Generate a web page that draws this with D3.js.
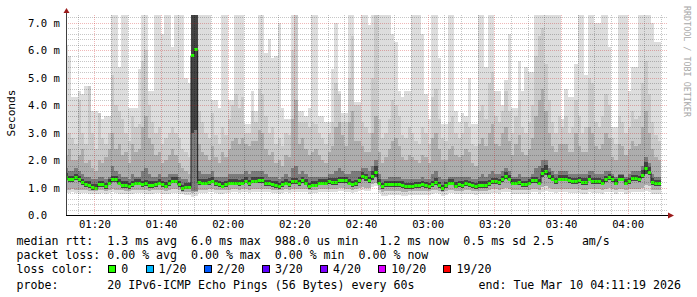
<!DOCTYPE html>
<html><head><meta charset="utf-8">
<script src="https://cdn.jsdelivr.net/npm/d3@7"></script>
<style>
body{margin:0;background:#fff}
svg{display:block}
text{font-family:"DejaVu Sans Mono",monospace;fill:#000}
</style>
</head><body>
<svg id="chart" width="697" height="297"></svg>
<script>
// ---------- DATA (one value per 60 s step, starting 01:11) ----------
const firstStep = new Date(2026, 2, 10, 1, 11, 0);
const viewStart = new Date(2026, 2, 10, 1, 11, 30);
const viewEnd   = new Date(2026, 2, 10, 4, 11, 30);

const median = [
1.40,1.30,1.30,1.39,1.31,1.19,1.12,1.10,1.02,1.00,
1.13,1.13,1.05,1.18,1.30,1.30,1.18,1.10,1.10,1.05,
1.13,1.18,1.18,1.13,1.15,1.10,1.10,1.13,1.18,1.12,
1.07,1.15,1.25,1.25,1.13,0.99,1.03,1.03,5.84,6.04,
1.19,1.18,1.18,1.21,1.25,1.15,1.13,1.07,1.13,1.18,
1.18,1.18,1.15,1.18,1.25,1.15,1.25,1.25,1.28,1.28,
1.15,1.15,1.12,1.10,1.05,1.13,1.18,1.13,1.24,1.24,
1.15,1.27,1.18,1.05,1.11,1.11,1.18,1.18,1.18,1.24,
1.21,1.21,1.27,1.27,1.27,1.18,1.12,1.15,1.27,1.42,
1.37,1.27,1.42,1.58,1.18,1.05,1.12,1.12,1.12,1.12,
1.12,1.10,1.05,1.05,1.05,1.08,1.08,1.12,1.08,1.05,
1.12,1.21,1.08,0.99,1.08,1.18,1.18,1.07,1.12,1.10,
1.15,1.13,1.08,1.05,1.10,1.10,1.10,1.15,1.24,1.24,
1.19,1.30,1.42,1.32,1.18,1.18,1.19,1.12,1.12,1.18,
1.27,1.27,1.18,1.52,1.61,1.42,1.32,1.24,1.32,1.32,
1.32,1.27,1.24,1.24,1.27,1.21,1.21,1.32,1.24,1.24,
1.24,1.18,1.30,1.39,1.30,1.18,1.32,1.32,1.18,1.24,
1.33,1.33,1.30,1.45,1.70,1.58,1.21,1.15,1.15];

// outermost smoke (slowest / fastest ping)
const maxPing = [
6.2,5.8,4.3,4.3,4.5,4.4,4.7,4.7,3.8,3.8,
3.7,3.5,3.6,3.6,7.3,7.3,5.4,7.3,7.3,3.9,
3.9,3.9,5.3,7.3,7.3,4.5,4.5,7.3,7.3,6.6,
7.3,7.3,6.1,7.3,7.3,7.3,5.0,4.8,7.3,7.3,
7.3,7.3,7.3,7.3,4.2,4.2,3.9,7.3,7.3,4.2,
4.2,7.3,7.3,7.3,3.3,3.3,4.5,3.8,7.3,7.3,
5.9,6.4,5.7,5.8,7.0,3.9,3.5,3.5,7.3,7.3,
3.8,3.8,3.6,3.9,7.3,7.3,3.6,3.6,3.4,3.4,
5.3,7.0,4.5,3.7,3.7,7.3,7.3,4.1,4.1,7.3,
7.3,6.9,7.3,7.3,7.3,7.3,7.3,7.3,6.6,6.3,
4.5,4.3,4.5,4.5,7.3,7.3,7.3,6.6,4.4,3.5,
7.3,7.3,5.7,3.3,3.3,7.3,7.3,3.8,3.4,3.7,
3.6,5.0,3.3,3.3,7.3,7.3,5.4,7.3,7.3,4.5,
4.5,4.0,4.9,6.6,3.9,3.9,5.6,4.5,5.4,5.2,
5.2,7.3,7.3,7.3,7.3,7.3,7.3,7.3,7.3,3.5,
4.6,4.3,4.3,5.5,7.3,7.3,5.1,7.3,7.3,7.0,
7.0,7.3,7.3,6.1,3.2,3.2,7.3,7.3,7.3,4.5,
5.4,5.4,7.3,7.3,7.3,7.3,7.0,6.3,6.3];
const minPing = [
0.80,0.80,0.82,0.80,0.78,0.80,0.80,0.78,0.76,0.76,
0.78,0.80,0.78,0.80,0.82,0.80,0.78,0.78,0.76,0.76,
0.78,0.80,0.80,0.80,0.78,0.76,0.78,0.80,0.80,0.78,
0.76,0.78,0.80,0.80,0.78,0.76,0.74,0.72,0.66,0.70,
0.80,0.80,0.80,0.82,0.82,0.80,0.78,0.78,0.80,0.80,
0.82,0.82,0.80,0.82,0.84,0.80,0.82,0.84,0.84,0.84,
0.84,0.82,0.80,0.80,0.78,0.80,0.82,0.80,0.84,0.84,
0.82,0.84,0.82,0.78,0.80,0.80,0.82,0.82,0.82,0.84,
0.84,0.84,0.86,0.86,0.84,0.82,0.80,0.82,0.86,0.90,
0.88,0.86,1.02,1.05,0.80,0.70,0.70,0.72,0.72,0.72,
0.72,0.70,0.70,0.72,0.72,0.74,0.74,0.74,0.72,0.72,
0.78,0.80,0.76,0.70,0.74,0.80,0.80,0.76,0.76,0.76,
0.78,0.78,0.76,0.74,0.76,0.76,0.76,0.78,0.80,0.80,
0.78,0.82,0.84,0.82,0.78,0.78,0.78,0.76,0.76,0.78,
0.82,0.82,0.78,0.84,0.86,0.84,0.82,0.80,0.82,0.82,
0.82,0.80,0.80,0.80,0.80,0.78,0.78,0.82,0.80,0.80,
0.80,0.78,0.82,0.84,0.82,0.78,0.82,0.82,0.78,0.80,
0.82,0.82,0.82,0.84,0.86,0.84,0.78,0.76,0.76];
// inner smoke levels
const upper2 = [
3.0,3.0,2.8,2.6,4.2,3.0,2.6,4.7,3.0,2.4,
3.7,2.8,2.6,3.0,5.1,4.0,3.8,3.5,3.0,2.7,
3.6,3.2,3.3,5.6,6.0,4.0,3.4,3.0,3.2,2.6,
2.8,3.0,3.2,3.0,2.8,2.4,2.3,2.1,7.3,7.3,
3.8,3.4,3.0,2.8,3.7,2.9,2.6,3.2,2.9,3.5,
4.0,4.4,3.9,4.3,3.0,3.0,3.8,3.4,4.6,4.4,
3.6,3.0,3.2,2.6,2.8,2.5,3.0,2.9,6.0,7.3,
3.4,3.4,3.4,3.2,3.4,3.3,3.0,2.8,2.6,3.0,
3.4,4.8,4.4,3.4,3.4,5.0,6.5,4.0,4.0,3.4,
3.2,3.0,5.0,7.3,3.5,2.8,3.0,3.5,4.2,4.0,
3.6,2.9,2.8,3.2,3.0,2.7,2.6,3.2,3.0,2.6,
4.3,4.6,3.5,2.8,2.7,3.4,3.6,3.0,2.8,3.0,
3.4,3.2,2.6,2.5,3.8,4.0,3.5,4.8,5.2,3.6,
3.4,3.8,4.5,3.8,3.0,3.6,4.2,3.2,3.0,3.4,
4.0,5.8,6.5,6.8,5.5,4.2,3.4,3.0,3.6,3.2,
3.6,3.0,3.2,4.2,3.6,3.0,3.2,5.0,4.8,3.4,
3.2,3.6,4.4,4.0,2.8,2.6,3.6,3.4,3.0,3.2,
3.8,3.5,3.6,4.8,5.6,4.4,3.4,2.9,2.7];
const upper3 = [
2.2,2.4,2.0,2.0,2.2,2.4,1.9,2.0,1.7,1.6,
2.0,1.9,2.1,2.4,3.0,2.4,2.6,2.2,2.3,1.9,
2.6,2.3,2.4,3.2,3.6,2.8,2.6,2.2,2.3,1.9,
2.0,2.2,2.4,2.2,1.9,1.7,1.6,1.5,7.3,7.3,
2.6,2.3,2.2,2.0,2.5,2.1,1.9,2.3,2.1,2.4,
2.7,2.8,2.6,2.8,2.6,2.5,2.7,2.7,3.1,3.0,
2.4,2.2,2.3,1.9,2.0,1.8,2.2,2.1,3.5,4.2,
2.6,2.8,2.4,2.2,2.3,2.4,2.2,2.0,1.9,2.3,
2.5,3.2,3.4,2.9,2.5,3.4,3.8,2.7,2.7,2.5,
2.3,2.3,3.0,3.6,2.3,1.9,2.1,2.4,2.7,2.8,
2.5,2.1,2.0,2.2,2.1,2.0,1.9,2.2,2.1,1.9,
2.8,3.0,2.4,2.0,2.0,2.4,2.5,2.2,2.1,2.2,
2.4,2.3,1.9,1.8,2.6,2.8,2.5,3.0,3.3,2.6,
2.5,3.0,3.2,2.7,2.2,2.6,2.9,2.3,2.2,2.4,
2.8,3.6,4.2,4.6,3.8,3.0,2.5,2.3,2.6,2.6,
2.6,2.3,2.3,3.0,2.5,2.3,2.3,3.2,3.0,2.5,
2.4,2.6,3.0,2.8,2.1,2.0,2.6,2.5,2.2,2.4,
2.7,2.5,2.6,3.2,3.8,3.0,2.4,2.1,2.0];
const upper4 = [
1.7,1.6,1.6,1.7,1.6,1.5,1.4,1.4,1.3,1.3,
1.4,1.4,1.3,1.4,1.8,1.6,1.5,1.4,1.4,1.3,
1.5,1.4,1.4,1.6,1.7,1.5,1.4,1.4,1.5,1.4,
1.4,1.5,1.5,1.5,1.4,1.3,1.3,1.2,7.3,7.3,
1.6,1.5,1.5,1.5,1.6,1.4,1.4,1.4,1.4,1.5,
1.5,1.5,1.5,1.5,1.6,1.5,1.6,1.6,1.6,1.6,
1.5,1.4,1.4,1.4,1.3,1.4,1.5,1.4,1.7,1.8,
1.5,1.6,1.5,1.4,1.4,1.4,1.4,1.4,1.4,1.5,
1.5,1.6,1.7,1.6,1.5,1.5,1.6,1.6,1.6,1.7,
1.7,1.6,1.8,2.0,1.5,1.3,1.3,1.4,1.4,1.4,
1.4,1.3,1.3,1.3,1.3,1.3,1.3,1.4,1.3,1.3,
1.5,1.6,1.4,1.3,1.3,1.4,1.4,1.4,1.4,1.4,
1.4,1.4,1.3,1.3,1.4,1.5,1.4,1.5,1.6,1.5,
1.5,1.6,1.7,1.6,1.4,1.4,1.5,1.4,1.4,1.4,
1.5,1.7,1.8,2.0,2.0,1.7,1.6,1.5,1.6,1.6,
1.6,1.5,1.5,1.5,1.5,1.5,1.5,1.6,1.6,1.5,
1.5,1.5,1.6,1.6,1.5,1.4,1.5,1.5,1.4,1.5,
1.6,1.6,1.6,1.8,2.1,1.9,1.5,1.4,1.4];
const lower2 = [
0.92,0.92,0.94,0.92,0.90,0.92,0.90,0.88,0.86,0.86,
0.90,0.90,0.88,0.92,0.94,0.92,0.90,0.90,0.88,0.88,
0.90,0.92,0.92,0.90,0.90,0.88,0.90,0.92,0.92,0.90,
0.88,0.90,0.94,0.94,0.90,0.84,0.84,0.84,0.80,0.82,
0.92,0.92,0.92,0.94,0.94,0.92,0.90,0.90,0.92,0.92,
0.94,0.94,0.92,0.94,0.96,0.92,0.94,0.96,0.96,0.96,
0.94,0.94,0.92,0.92,0.90,0.92,0.94,0.92,0.96,0.96,
0.94,0.96,0.94,0.90,0.92,0.92,0.94,0.94,0.94,0.96,
0.96,0.96,0.98,0.98,0.96,0.94,0.92,0.94,0.98,1.02,
1.00,0.98,1.12,1.15,0.92,0.84,0.86,0.86,0.86,0.86,
0.86,0.84,0.84,0.86,0.86,0.88,0.88,0.88,0.86,0.86,
0.90,0.92,0.88,0.84,0.88,0.92,0.92,0.88,0.88,0.88,
0.90,0.90,0.88,0.86,0.88,0.88,0.88,0.90,0.94,0.94,
0.92,0.96,1.00,0.96,0.92,0.92,0.92,0.90,0.90,0.92,
0.96,0.96,0.92,1.02,1.06,1.00,0.96,0.94,0.96,0.96,
0.96,0.94,0.94,0.94,0.94,0.92,0.92,0.96,0.94,0.94,
0.94,0.92,0.96,0.98,0.96,0.92,0.96,0.96,0.92,0.94,
0.96,0.96,0.96,1.00,1.08,1.04,0.92,0.90,0.90];
// bottom of the dark-grey level (just under the median)
const lower4 = [
1.30,1.20,1.20,1.29,1.21,1.09,1.02,1.00,0.92,0.90,
1.03,1.03,0.95,1.08,1.20,1.20,1.08,1.00,1.00,0.95,
1.03,1.08,1.08,1.03,1.05,1.00,1.00,1.03,1.08,1.02,
0.97,1.05,1.15,1.15,1.03,0.89,0.93,0.93,0.86,0.88,
1.09,1.08,1.08,1.11,1.15,1.05,1.03,0.97,1.03,1.08,
1.08,1.08,1.05,1.08,1.15,1.05,1.15,1.15,1.18,1.18,
1.05,1.05,1.02,1.00,0.95,1.03,1.08,1.03,1.14,1.14,
1.05,1.17,1.08,0.95,1.01,1.01,1.08,1.08,1.08,1.14,
1.11,1.11,1.17,1.17,1.17,1.08,1.02,1.05,1.17,1.30,
1.25,1.17,1.28,1.40,1.08,0.95,1.02,1.02,1.02,1.02,
1.02,1.00,0.95,0.95,0.95,0.98,0.98,1.02,0.98,0.95,
1.02,1.11,0.98,0.89,0.98,1.08,1.08,0.97,1.02,1.00,
1.05,1.03,0.98,0.95,1.00,1.00,1.00,1.05,1.14,1.14,
1.09,1.20,1.30,1.22,1.08,1.08,1.09,1.02,1.02,1.08,
1.17,1.17,1.08,1.38,1.45,1.30,1.22,1.14,1.22,1.22,
1.22,1.17,1.14,1.14,1.17,1.11,1.11,1.22,1.14,1.14,
1.14,1.08,1.20,1.29,1.20,1.08,1.22,1.22,1.08,1.14,
1.23,1.23,1.20,1.33,1.50,1.45,1.11,1.05,1.05];
// innermost (darkest) smoke band, hugging the median
const coreLow = [
1.30,1.20,1.20,1.29,1.21,1.09,1.02,1.00,0.92,0.90,
1.03,1.03,0.95,1.08,1.20,1.20,1.08,1.00,1.00,0.95,
1.03,1.08,1.08,1.03,1.05,1.00,1.00,1.03,1.08,1.02,
0.97,1.05,1.15,1.15,1.03,0.89,0.93,0.93,3.00,3.10,
1.09,1.08,1.08,1.11,1.15,1.05,1.03,0.97,1.03,1.08,
1.08,1.08,1.05,1.08,1.15,1.05,1.15,1.15,1.18,1.18,
1.05,1.05,1.02,1.00,0.95,1.03,1.08,1.03,1.14,1.14,
1.05,1.17,1.08,0.95,1.01,1.01,1.08,1.08,1.08,1.14,
1.11,1.11,1.17,1.17,1.17,1.08,1.02,1.05,1.17,1.30,
1.25,1.17,1.28,1.40,1.08,0.95,1.02,1.02,1.02,1.02,
1.02,1.00,0.95,0.95,0.95,0.98,0.98,1.02,0.98,0.95,
1.02,1.11,0.98,0.89,0.98,1.08,1.08,0.97,1.02,1.00,
1.05,1.03,0.98,0.95,1.00,1.00,1.00,1.05,1.14,1.14,
1.09,1.20,1.30,1.22,1.08,1.08,1.09,1.02,1.02,1.08,
1.17,1.17,1.08,1.38,1.45,1.30,1.22,1.14,1.22,1.22,
1.22,1.17,1.14,1.14,1.17,1.11,1.11,1.22,1.14,1.14,
1.14,1.08,1.20,1.29,1.20,1.08,1.22,1.22,1.08,1.14,
1.23,1.23,1.20,1.33,1.50,1.45,1.11,1.05,1.05];
const coreHigh = [
1.52,1.42,1.42,1.51,1.43,1.31,1.24,1.22,1.14,1.12,
1.25,1.25,1.17,1.30,1.42,1.42,1.30,1.22,1.22,1.17,
1.25,1.30,1.30,1.25,1.27,1.22,1.22,1.25,1.30,1.24,
1.19,1.27,1.37,1.37,1.25,1.11,1.15,1.15,7.30,7.30,
1.31,1.30,1.30,1.33,1.37,1.27,1.25,1.19,1.25,1.30,
1.30,1.30,1.27,1.30,1.37,1.27,1.37,1.37,1.40,1.40,
1.27,1.27,1.24,1.22,1.17,1.25,1.30,1.25,1.36,1.36,
1.27,1.39,1.30,1.17,1.23,1.23,1.30,1.30,1.30,1.36,
1.33,1.33,1.39,1.39,1.39,1.30,1.24,1.27,1.39,1.56,
1.50,1.39,1.60,1.80,1.30,1.17,1.24,1.24,1.24,1.24,
1.24,1.22,1.17,1.17,1.17,1.20,1.20,1.24,1.20,1.17,
1.24,1.33,1.20,1.11,1.20,1.30,1.30,1.19,1.24,1.22,
1.27,1.25,1.20,1.17,1.22,1.22,1.22,1.27,1.36,1.36,
1.31,1.42,1.56,1.44,1.30,1.30,1.31,1.24,1.24,1.30,
1.39,1.39,1.30,1.70,1.82,1.56,1.44,1.36,1.44,1.44,
1.44,1.39,1.36,1.36,1.39,1.33,1.33,1.44,1.36,1.36,
1.36,1.30,1.42,1.51,1.42,1.30,1.44,1.44,1.30,1.36,
1.45,1.45,1.42,1.62,1.92,1.75,1.33,1.27,1.27];

const yTickValues = [0, 1, 2, 3, 4, 5, 6, 7];
const yTickLabels = ["0.0", "1.0 m", "2.0 m", "3.0 m", "4.0 m", "5.0 m", "6.0 m", "7.0 m"];
const xTickLabels = ["01:20", "01:40", "02:00", "02:20", "02:40", "03:00", "03:20", "03:40", "04:00"];

const lossLabels = ["0", "1/20", "2/20", "3/20", "4/20", "10/20", "19/20"];
const lossColors = ["#26ff00", "#00b8ff", "#0059ff", "#5e00ff", "#7e00ff", "#dd00ff", "#ff0000"];

const legendLines = [
  "median rtt:  1.3 ms avg  6.0 ms max  988.0 us min   1.2 ms now  0.5 ms sd 2.5    am/s",
  "packet loss: 0.00 % avg  0.00 % max  0.00 % min  0.00 % now",
  "loss color:",
  "probe:       20 IPv6-ICMP Echo Pings (56 Bytes) every 60s"
];
const endLabel = "end: Tue Mar 10 04:11:19 2026";
const yAxisTitle = "Seconds";
const watermark = "RRDTOOL / TOBI OETIKER";

// ---------- LAYOUT ----------
const L = 66, R = 666, T = 15, B = 215;
const svg = d3.select("#chart");
const x = d3.scaleTime().domain([viewStart, viewEnd]).range([L, R]);
const y = d3.scaleLinear().domain([0, 7.28]).range([B, T]);

svg.append("rect").attr("width", 697).attr("height", 297).attr("fill", "#fff");
svg.append("defs").append("clipPath").attr("id", "plot")
  .append("rect").attr("x", L).attr("y", T).attr("width", R - L).attr("height", B - T);

const n = median.length;
const stepT = k => d3.timeMinute.offset(firstStep, k);
const g = svg.append("g").attr("clip-path", "url(#plot)");

function band(lo, hi, color) {
  const pts = d3.range(n).map(k => ({t: stepT(k), lo: lo[k], hi: hi[k]}));
  pts.push({t: stepT(n), lo: lo[n - 1], hi: hi[n - 1]});
  const area = d3.area().curve(d3.curveStepAfter)
    .x(d => x(d.t)).y0(d => y(d.lo)).y1(d => y(d.hi));
  g.append("path").attr("d", area(pts)).attr("fill", color)
    .attr("shape-rendering", "crispEdges");
}
band(minPing, maxPing, "#dddddd");
band(lower2, upper2, "#cacaca");
band(lower2, upper3, "#adadad");
band(lower4, upper4, "#7c7c7c");
band(coreLow, coreHigh, "#444444");

// ---------- GRID (semi-transparent dotted, drawn over the smoke) ----------
const grid = svg.append("g").attr("shape-rendering", "crispEdges");
const minorCol = "rgba(0,0,0,0.22)", majorCol = "rgba(200,0,0,0.28)";
const minorY = d3.range(0, 7.3, 0.2).filter(v => Math.abs(v - Math.round(v)) > 0.01);
grid.selectAll(".hmin").data(minorY).join("line")
  .attr("x1", L).attr("x2", R + 2)
  .attr("y1", d => Math.round(y(d)) + 0.5).attr("y2", d => Math.round(y(d)) + 0.5)
  .attr("stroke", minorCol).attr("stroke-dasharray", "1,1");
const fmt = d3.timeFormat("%H:%M");
const minorX = x.ticks(d3.timeMinute.every(5)).filter(t => !xTickLabels.includes(fmt(t)));
grid.selectAll(".vmin").data(minorX).join("line")
  .attr("y1", T).attr("y2", B)
  .attr("x1", d => Math.round(x(d)) + 0.5).attr("x2", d => Math.round(x(d)) + 0.5)
  .attr("stroke", minorCol).attr("stroke-dasharray", "1,1");
grid.selectAll(".hmaj").data(yTickValues.slice(1)).join("line")
  .attr("x1", L).attr("x2", R + 2)
  .attr("y1", d => Math.round(y(d)) + 0.5).attr("y2", d => Math.round(y(d)) + 0.5)
  .attr("stroke", majorCol).attr("stroke-dasharray", "1,1");
const majorX = x.ticks(d3.timeMinute.every(20)).filter(t => xTickLabels.includes(fmt(t)));
grid.selectAll(".vmaj").data(majorX).join("line")
  .attr("y1", T).attr("y2", B)
  .attr("x1", d => Math.round(x(d)) + 0.5).attr("x2", d => Math.round(x(d)) + 0.5)
  .attr("stroke", majorCol).attr("stroke-dasharray", "1,1");

// ---------- MEDIAN ----------
const medPts = d3.range(n).map(k => ({t: stepT(k), v: median[k]}));
medPts.push({t: stepT(n), v: median[n - 1]});
g.append("path")
  .attr("d", d3.line().curve(d3.curveStepAfter).x(d => x(d.t)).y(d => Math.round(y(d.v)) + 0.5)(medPts))
  .attr("fill", "none").attr("stroke", "#202020").attr("stroke-width", 1);
g.selectAll(".med").data(d3.range(n)).join("line")
  .attr("x1", k => x(stepT(k))).attr("x2", k => x(stepT(k + 1)))
  .attr("y1", k => Math.round(y(median[k])) + 0.5).attr("y2", k => Math.round(y(median[k])) + 0.5)
  .attr("stroke", lossColors[0]).attr("stroke-width", 3);

// ---------- AXES ----------
const ax = svg.append("g");
ax.append("line").attr("x1", L + 0.5).attr("x2", L + 0.5).attr("y1", B).attr("y2", 11)
  .attr("stroke", "#404040");
ax.append("line").attr("x1", L).attr("x2", 669).attr("y1", B + 0.5).attr("y2", B + 0.5)
  .attr("stroke", "#000");
ax.append("path").attr("d", `M${L - 2.5},${13} L${L + 3.5},${13} L${L + 0.5},${8} Z`).attr("fill", "#9b1b1b");
ax.append("path").attr("d", `M668,${B - 2.5} L668,${B + 3.5} L674,${B + 0.5} Z`).attr("fill", "#9b1b1b");

ax.selectAll(".yl").data(yTickValues).join("text")
  .attr("x", 28).attr("y", d => y(d) + 4)
  .attr("font-size", "10.6px").attr("xml:space", "preserve")
  .text((d, i) => yTickLabels[i]);

ax.selectAll(".xl").data(majorX).join("text")
  .attr("x", d => x(d) + 0.5).attr("y", 228)
  .attr("text-anchor", "middle").attr("font-size", "10.6px")
  .text(d => xTickLabels[xTickLabels.indexOf(fmt(d))]);

svg.append("text").attr("transform", "translate(15,113) rotate(-90)")
  .attr("text-anchor", "middle").attr("font-size", "11.2px").text(yAxisTitle);

svg.append("text").attr("transform", "translate(684,6) rotate(90)")
  .attr("font-size", "8.4px").style("fill", "#a8a8a8").text(watermark);

// ---------- LEGEND ----------
const LX = 16.5, CW = 7.0, FS = "11.6px";
const lineY = [245, 259, 273, 289];
legendLines.forEach((s, i) => {
  svg.append("text").attr("x", LX).attr("y", lineY[i]).attr("font-size", FS)
    .attr("xml:space", "preserve").style("white-space", "pre").text(s);
});
svg.append("text").attr("x", LX + 66 * CW).attr("y", lineY[3]).attr("font-size", FS).text(endLabel);

let cx = 108.3;
lossLabels.forEach((lab, i) => {
  svg.append("rect").attr("x", Math.round(cx) + 0.5).attr("y", 265.5).attr("width", 7).attr("height", 7)
    .attr("fill", lossColors[i]).attr("stroke", "#000").attr("stroke-width", 1);
  svg.append("text").attr("x", cx + 13).attr("y", lineY[2]).attr("font-size", FS).text(lab);
  cx = cx + 13 + lab.length * CW + 17.2;
});
</script>
</body></html>
